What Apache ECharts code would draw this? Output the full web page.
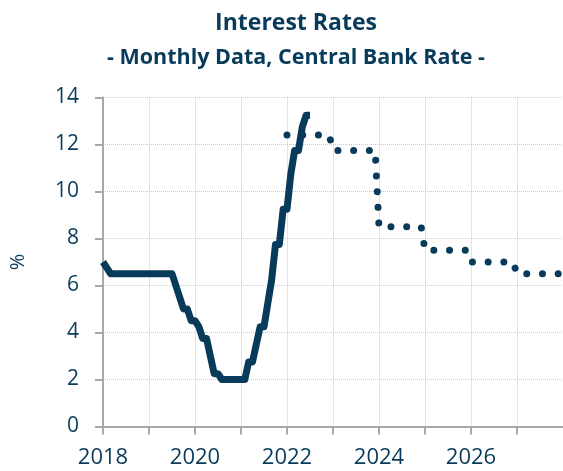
<!DOCTYPE html>
<html>
<head>
<meta charset="utf-8">
<script src="https://cdn.jsdelivr.net/npm/echarts@6/dist/echarts.min.js"></script>
<style>
html,body{margin:0;padding:0;background:#fff;}
#chart{width:563px;height:471px;}
</style>
</head>
<body>
<div id="chart"></div>
<script>
// Actual central bank rate, monthly (end of month), %
var actualMonths = [
 '2018-01','2018-02','2018-03','2018-04','2018-05','2018-06','2018-07','2018-08','2018-09','2018-10','2018-11','2018-12',
 '2019-01','2019-02','2019-03','2019-04','2019-05','2019-06','2019-07','2019-08','2019-09','2019-10','2019-11','2019-12',
 '2020-01','2020-02','2020-03','2020-04','2020-05','2020-06','2020-07','2020-08','2020-09','2020-10','2020-11','2020-12',
 '2021-01','2021-02','2021-03','2021-04','2021-05','2021-06','2021-07','2021-08','2021-09','2021-10','2021-11','2021-12',
 '2022-01','2022-02','2022-03','2022-04','2022-05','2022-06','2022-07'
];
var actualValues = [
 7.00,6.75,6.50,6.50,6.50,6.50,6.50,6.50,6.50,6.50,6.50,6.50,
 6.50,6.50,6.50,6.50,6.50,6.50,6.50,6.00,5.50,5.00,5.00,4.50,
 4.50,4.25,3.75,3.75,3.00,2.25,2.25,2.00,2.00,2.00,2.00,2.00,
 2.00,2.00,2.75,2.75,3.50,4.25,4.25,5.25,6.25,7.75,7.75,9.25,
 9.25,10.75,11.75,11.75,12.75,13.25,13.25
];
// Forecast path (yearly forecast values held monthly)
var forecastYears = [2022, 2023, 2024, 2025, 2026, 2027];
var forecastValues = [12.4, 11.75, 8.5, 7.5, 7.0, 6.5];

var xTicks = [2018, 2020, 2022, 2024, 2026];

function monthToYear(s){ var p = s.split('-'); return +p[0] + (+p[1]-1)/12; }

var actualData = actualMonths.map(function(m,i){ return [monthToYear(m), actualValues[i]]; });
var forecastData = [];
forecastYears.forEach(function(y,i){
  for (var m=0;m<12;m++){ forecastData.push([y + m/12, forecastValues[i]]); }
});

var dark = '#083b5a';
var axisGray = '#a8a8a8';
var gridGray = '#c9c9c9';
var font = 'Open Sans';

var chart = echarts.init(document.getElementById('chart'), null, {renderer:'canvas'});
chart.setOption({
  animation: false,
  title: [
    {text: 'Interest Rates', left: 291, top: 7, textAlign: 'center',
     textStyle: {fontFamily: font, fontWeight: 'bold', fontSize: 23, color: dark}},
    {text: '- Monthly Data, Central Bank Rate -', left: 291, top: 42, textAlign: 'center',
     textStyle: {fontFamily: font, fontWeight: 'bold', fontSize: 21.5, color: dark}}
  ],
  grid: {left: 103, right: -2, top: 97.5, bottom: 44.5, containLabel: false},
  xAxis: {
    type: 'value', min: 2018, max: 2028, interval: 1,
    axisLine: {show: true, lineStyle: {color: axisGray, width: 2}},
    axisTick: {show: true, length: 8, lineStyle: {color: axisGray, width: 2}},
    splitLine: {show: true, lineStyle: {color: gridGray, type: 'dotted', width: 1}},
    axisLabel: {
      margin: 20, fontFamily: font, fontSize: 22, color: dark,
      showMinLabel: true, showMaxLabel: false,
      formatter: function(v){ return xTicks.indexOf(v) >= 0 ? String(v) : ''; }
    }
  },
  yAxis: {
    type: 'value', min: 0, max: 14, interval: 2,
    name: '%', nameLocation: 'middle', nameGap: 75, nameRotate: 90,
    nameTextStyle: {fontFamily: font, fontSize: 20, color: dark},
    axisLine: {show: true, lineStyle: {color: axisGray, width: 2}},
    axisTick: {show: true, length: 8, lineStyle: {color: axisGray, width: 2}},
    splitLine: {show: true, lineStyle: {color: gridGray, type: 'dotted', width: 1}},
    axisLabel: {margin: 24, fontFamily: font, fontSize: 21, color: dark}
  },
  series: [
    {
      name: 'Forecast', type: 'line', data: forecastData, symbol: 'none', z: 3,
      lineStyle: {color: dark, width: 7, type: [0.01, 15.7], cap: 'round', join: 'round'}
    },
    {
      name: 'Actual', type: 'line', data: actualData, symbol: 'none', z: 4,
      lineStyle: {color: dark, width: 7, cap: 'butt', join: 'round'}
    }
  ]
});
</script>
</body>
</html>
